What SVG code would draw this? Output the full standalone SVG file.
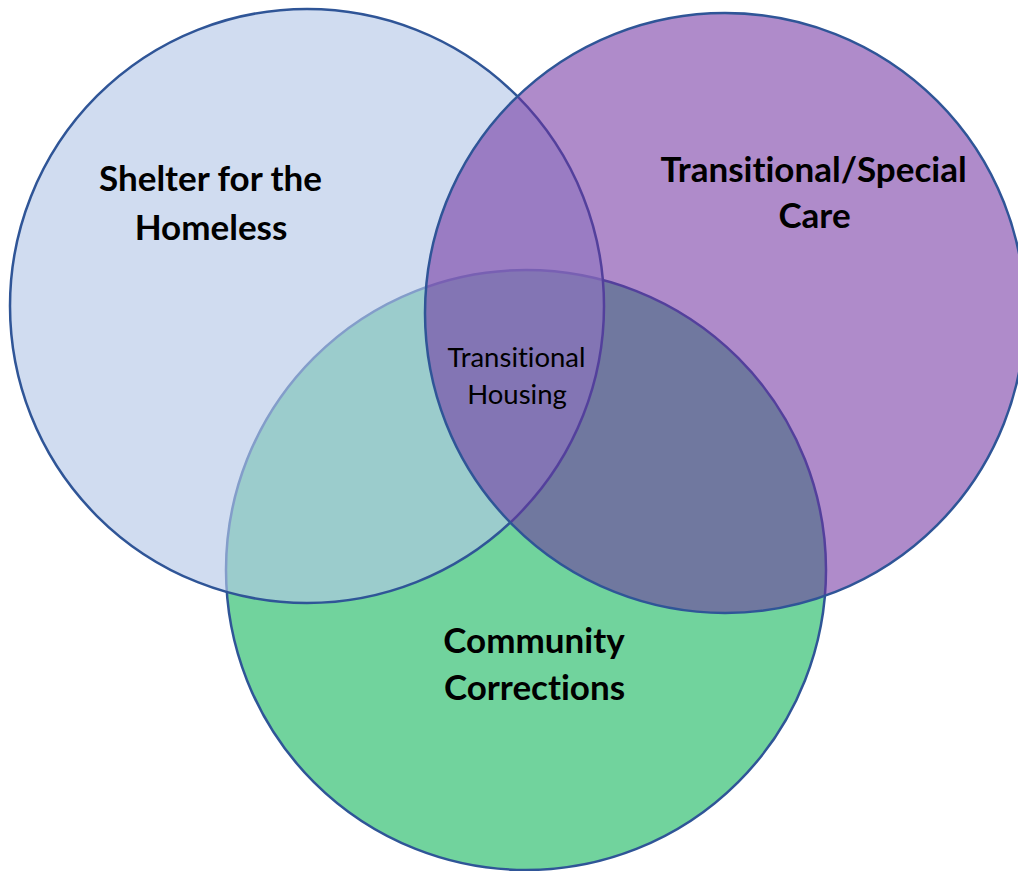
<svg xmlns="http://www.w3.org/2000/svg" width="1018" height="871" viewBox="0 0 1018 871">
  <style>
    .ring { stroke: #2F5597; stroke-width: 2.5; }
    .lbl { font-family: Lato, "Liberation Sans", sans-serif; font-weight: 700; font-size: 35px; fill: #000000; text-anchor: middle; font-variant-ligatures: none; }
    .small { font-family: Lato, "Liberation Sans", sans-serif; font-weight: 400; font-size: 27.5px; fill: #000000; text-anchor: middle; font-variant-ligatures: none; }
  </style>
  <rect x="0" y="0" width="1018" height="871" fill="#FFFFFF"/>
  <g id="community-corrections">
    <circle class="ring" cx="526" cy="570" r="300" fill="#71D39D"/>
    <text class="lbl" x="534" y="653">Community</text>
    <text class="lbl" x="534.5" y="700">Corrections</text>
  </g>
  <g id="shelter-homeless">
    <circle class="ring" cx="307" cy="306" r="297" fill="#B4C7E7" fill-opacity="0.63"/>
    <text class="lbl" x="210.5" y="191">Shelter for the</text>
    <text class="lbl" x="211" y="240">Homeless</text>
  </g>
  <g id="transitional-special-care">
    <circle class="ring" cx="725" cy="313" r="300" fill="#7030A0" fill-opacity="0.56"/>
    <text class="lbl" x="813.5" y="182">Transitional/Special</text>
    <text class="lbl" x="814.5" y="228">Care</text>
  </g>
  <g id="transitional-housing">
    <text class="small" x="516.5" y="367">Transitional</text>
    <text class="small" x="517" y="404">Housing</text>
  </g>
</svg>
